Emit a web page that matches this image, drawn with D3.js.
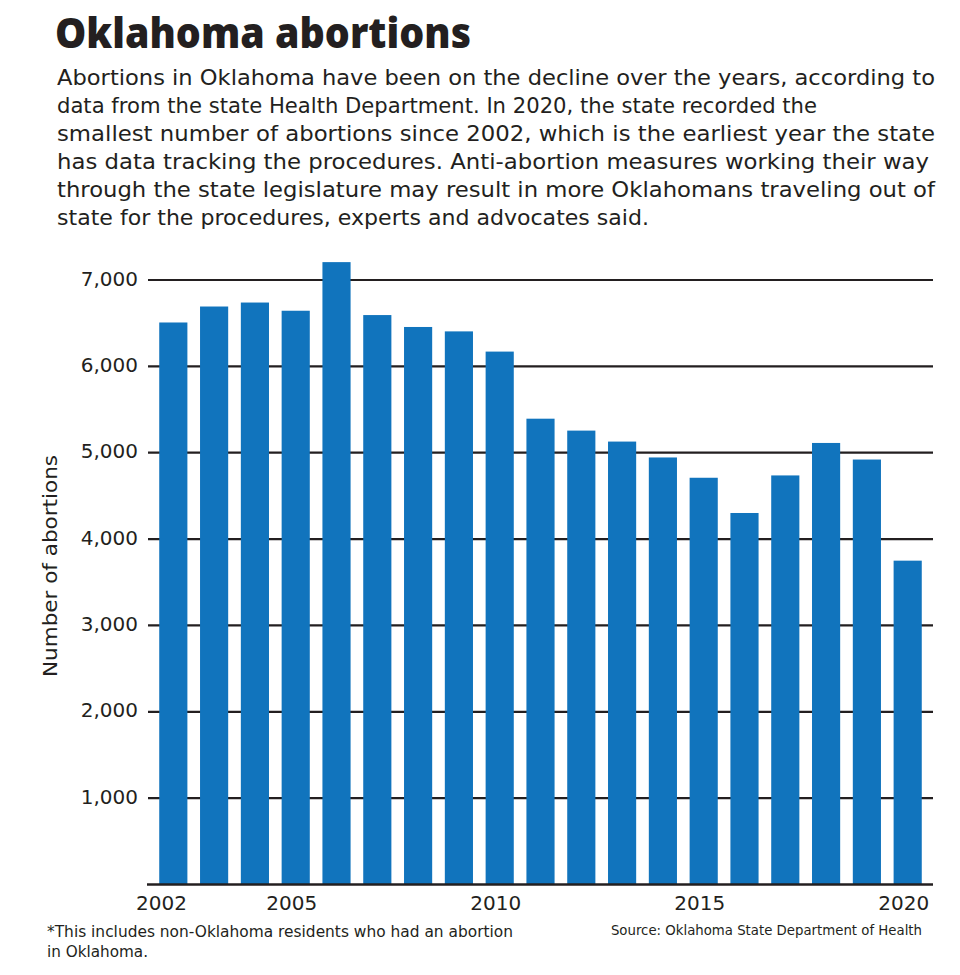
<!DOCTYPE html>
<html>
<head>
<meta charset="utf-8">
<script src="https://cdn.jsdelivr.net/npm/d3@7"></script>
<style>
  html, body { margin: 0; padding: 0; background: #fff; }
  svg { display: block; }
</style>
</head>
<body>
<svg id="chart" width="960" height="975"></svg>
<script>
const years = ["2002","2003","2004","2005","2006","2007","2008","2009","2010","2011","2012","2013","2014","2015","2016","2017","2018","2019","2020"];
const abortions = [6508, 6693, 6739, 6644, 7207, 6594, 6456, 6405, 6171, 5394, 5256, 5129, 4945, 4710, 4302, 4737, 5113, 4921, 3750];
const yTicks = [1000, 2000, 3000, 4000, 5000, 6000, 7000];
const xTickLabels = ["2002", "2005", "2010", "2015", "2020"];

const titleText = "Oklahoma abortions";
const introLines = [
  "Abortions in Oklahoma have been on the decline over the years, according to",
  "data from the state Health Department. In 2020, the state recorded the",
  "smallest number of abortions since 2002, which is the earliest year the state",
  "has data tracking the procedures. Anti-abortion measures working their way",
  "through the state legislature may result in more Oklahomans traveling out of",
  "state for the procedures, experts and advocates said."
];
const yAxisTitle = "Number of abortions";
const footnoteLines = ["*This includes non-Oklahoma residents who had an abortion", "in Oklahoma."];
const sourceText = "Source: Oklahoma State Department of Health";

const svg = d3.select("#chart");
const FONT = "'DejaVu Sans', 'Open Sans', sans-serif";
const ink = "#231f20";
const barColor = "#1174bd";

// Title
svg.append("text")
  .attr("x", 55).attr("y", 48)
  .attr("font-family", "'Open Sans', 'Lato', sans-serif")
  .attr("font-weight", 800)
  .attr("font-size", 42)
  .attr("fill", ink)
  .attr("textLength", 416)
  .attr("lengthAdjust", "spacingAndGlyphs")
  .text(titleText);

// Intro paragraph
const introWidths = [878, 760, 878, 872, 878, 592];
introLines.forEach((line, i) => {
  svg.append("text")
    .attr("x", 57).attr("y", 85 + i * 28)
    .attr("font-family", FONT)
    .attr("font-size", 20.5)
    .attr("fill", ink)
    .attr("textLength", introWidths[i])
    .attr("lengthAdjust", "spacingAndGlyphs")
    .text(line);
});

// Scales
const x = d3.scaleBand()
  .domain(years)
  .range([147, 934])
  .paddingInner(0.31)
  .paddingOuter(0.3);

const y = d3.scaleLinear()
  .domain([0, 7000])
  .range([884.5, 280]);

// Gridlines
svg.append("g").selectAll("line")
  .data(yTicks)
  .join("line")
  .attr("x1", 148).attr("x2", 933)
  .attr("y1", d => y(d)).attr("y2", d => y(d))
  .attr("stroke", ink)
  .attr("stroke-width", 2.2);

// Y tick labels
svg.append("g").selectAll("text")
  .data(yTicks)
  .join("text")
  .attr("x", 138)
  .attr("y", d => y(d) + 5.5)
  .attr("text-anchor", "end")
  .attr("font-family", FONT)
  .attr("font-size", 20)
  .attr("fill", ink)
  .text(d => d3.format(",")(d));

// Bars
svg.append("g").selectAll("rect")
  .data(years.map((yr, i) => ({ yr, v: abortions[i] })))
  .join("rect")
  .attr("x", d => x(d.yr))
  .attr("width", x.bandwidth())
  .attr("y", d => y(d.v))
  .attr("height", d => y(0) - y(d.v))
  .attr("fill", barColor);

// Baseline
svg.append("line")
  .attr("x1", 147).attr("x2", 933)
  .attr("y1", y(0)).attr("y2", y(0))
  .attr("stroke", ink)
  .attr("stroke-width", 2.5);

// X labels
svg.append("g").selectAll("text")
  .data(xTickLabels)
  .join("text")
  .attr("x", (d, i) => i === 0 ? x.range()[0] - 11 : x(d) + x.bandwidth() / 2 - 4)
  .attr("y", 909.5)
  .attr("text-anchor", (d, i) => i === 0 ? "start" : "middle")
  .attr("font-family", FONT)
  .attr("font-size", 20)
  .attr("fill", ink)
  .text(d => d);

// Y axis title
svg.append("text")
  .attr("transform", "translate(57,566) rotate(-90)")
  .attr("text-anchor", "middle")
  .attr("font-family", FONT)
  .attr("font-size", 20)
  .attr("fill", ink)
  .attr("textLength", 222)
  .attr("lengthAdjust", "spacingAndGlyphs")
  .text(yAxisTitle);

// Footnote
const footWidths = [466, 101];
footnoteLines.forEach((line, i) => {
  svg.append("text")
    .attr("x", 47).attr("y", 937 + i * 19.5)
    .attr("font-family", FONT)
    .attr("font-size", 15)
    .attr("fill", ink)
    .attr("textLength", footWidths[i])
    .attr("lengthAdjust", "spacingAndGlyphs")
    .text(line);
});

// Source
svg.append("text")
  .attr("x", 922).attr("y", 935)
  .attr("text-anchor", "end")
  .attr("font-family", FONT)
  .attr("font-size", 13.3)
  .attr("fill", ink)
  .text(sourceText);
</script>
</body>
</html>
